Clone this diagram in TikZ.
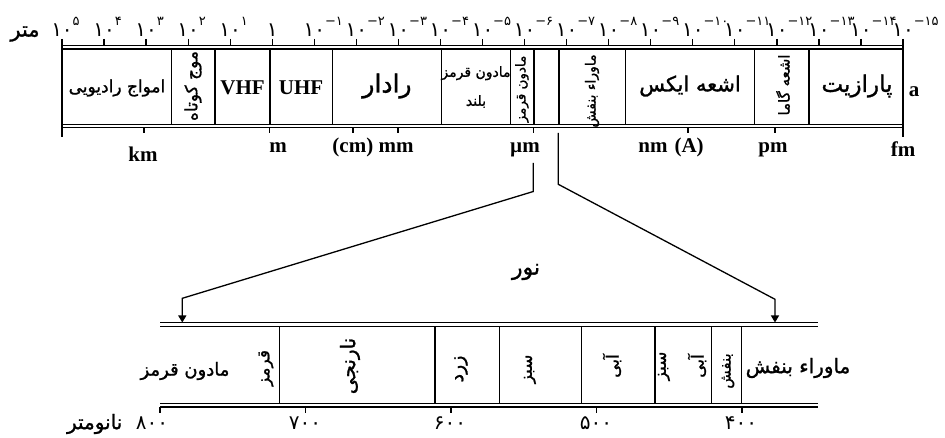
\documentclass[tikz,border=0pt]{standalone}
\usepackage{fontspec}
\setmainfont{Liberation Serif}
\newfontfamily\fa[Script=Arabic]{DejaVu Sans}
\newfontfamily\fab[Script=Arabic,FakeBold=1.2]{DejaVu Sans}
\newfontfamily\fadig{DejaVu Sans}
\TeXXeTstate=1
\usetikzlibrary{arrows.meta,positioning}
\newcommand{\fatxt}[1]{\beginR #1\endR}
\newcommand{\ep}[1]{\raisebox{11pt}{\fontsize{13}{13}\selectfont #1}}
\newcommand{\tenp}[1]{\hphantom{\ep{#1}}۱۰\ep{#1}}

\begin{document}
\begin{tikzpicture}[x=1pt, y=-1pt, line width=1.3pt,
	lat/.style={font=\fontsize{21}{21}\selectfont\bfseries, inner sep=0pt},
	sc/.style={font=\fadig\fontsize{20}{20}\selectfont, inner sep=0pt, anchor=base},
	big/.style={font=\fab\fontsize{22}{24}\selectfont, inner sep=0pt},
	mid/.style={font=\fab\fontsize{20}{22}\selectfont, inner sep=0pt},
	sml/.style={font=\fab\fontsize{15}{17}\selectfont, inner sep=0pt, align=center},
	vert/.style={font=\fab\fontsize{17}{19}\selectfont, inner sep=0pt, rotate=90},
	arr/.style={-{Triangle[length=7pt,width=8pt]}}]

	\useasboundingbox (0,0) rectangle (945,438);

	\node[mid, font=\fab\fontsize{21}{22}\selectfont] (mtr) at (25,34) {\fatxt{متر}};
	\foreach \i/\e in {0/۵,1/۴,2/۳,3/۲,4/۱,6/−۱,7/−۲,8/−۳,9/−۴,10/−۵,11/−۶,12/−۷,13/−۸,14/−۹,15/−۱۰,16/−۱۱,17/−۱۲,18/−۱۳,19/−۱۴,20/−۱۵}
		\node[sc] (t\i) at (62+42.05*\i,36.5) {\tenp{\e}};
	\node[sc] (t5) at (62+42.05*5,36.5) {۱};

	\foreach \y in {45.7,49,124.2,127.7}
		\draw (62,\y) -- (903,\y);
	\draw (62,39) -- (62,137);
	\draw (903,39) -- (903,137);
	\foreach \i in {1,...,19}
		\draw (62+42.05*\i,39) -- (62+42.05*\i,45.7);
	\foreach \x in {171.7,215,270,332.7,441.7,510.7,534,559,625.3,754.3,809}
		\draw (\x,49) -- (\x,124.2);
	\foreach \x in {144,269.3,353,398,533.3,688,775}
		\draw (\x,127.7) -- (\x,133);

	\node[sml, font=\fab\fontsize{17}{19}\selectfont] (rw) at (117,88) {\fatxt{امواج رادیویی}};
	\node[vert, font=\fab\fontsize{17}{19}\selectfont] (sw) at (193,86) {\fatxt{موج کوتاه}};
	\node[lat] (vhf) at (242.5,88) {VHF};
	\node[lat] (uhf) at (301,88) {UHF};
	\node[big, font=\fab\fontsize{25}{27}\selectfont] (rdr) at (387,86) {\fatxt{رادار}};
	\node[sml, font=\fab\fontsize{14}{29}\selectfont] (fir) at (476,87) {\fatxt{مادون قرمز}\\\fatxt{بلند}};
	\node[vert, font=\fab\fontsize{13.5}{15}\selectfont] (ir) at (522,89) {\fatxt{مادون قرمز}};
	\node[vert, font=\fab\fontsize{14}{16}\selectfont] (uv) at (592,91) {\fatxt{ماوراء بنفش}};
	\node[big, font=\fab\fontsize{21}{23}\selectfont] (xr) at (690,86) {\fatxt{اشعه ایکس}};
	\node[vert, font=\fab\fontsize{15}{17}\selectfont] (gam) at (783,85) {\fatxt{اشعه گاما}};
	\node[big, font=\fab\fontsize{23}{25}\selectfont] (par) at (857,86) {\fatxt{پارازیت}};
	\node[lat] (a) at (914,92) {a};

	\node[lat, anchor=base] (km) at (143,162) {km};
	\node[lat, anchor=base] (m) at (278,153) {m};
	\node[lat, anchor=base] (cm) at (373,153) {(cm) mm};
	\node[lat, anchor=base] (um) at (525,153) {µm};
	\node[lat, anchor=base] (nm) at (671,153) {nm\,\,(A)};
	\node[lat, anchor=base] (pm) at (773,153) {pm};
	\node[lat, anchor=base] (fm) at (903,157) {fm};

	\coordinate (l1) at (533.3,163);
	\coordinate (l2) at (533.3,191.5);
	\coordinate (l3) at (182.3,298.3);
	\coordinate (l4) at (182.3,322.5);
	\coordinate (r1) at (558.3,133);
	\coordinate (r2) at (558.3,184.3);
	\coordinate (r3) at (775,299.3);
	\coordinate (r4) at (775,322.5);
	\draw[arr] (l1) -- (l2) -- (l3) -- (l4);
	\draw[arr] (r1) -- (r2) -- (r3) -- (r4);
	\node[mid, font=\fab\fontsize{22}{24}\selectfont] (nur) at (526,272) {\fatxt{نور}};

	\foreach \y in {322.7,326.5,403.3,407}
		\draw (160,\y) -- (818,\y);
	\foreach \x in {279.3,435,499.3,581.7,655,711.7,741.7}
		\draw (\x,326.5) -- (\x,403.3);
	\foreach \x in {160,305.5,451,596.5,742}
		\draw (\x,407) -- (\x,412.5);
	\foreach \x/\d [count=\k] in {152/۸۰۰,305/۷۰۰,450/۶۰۰,596/۵۰۰,741/۴۰۰}
		\node[sc, anchor=center] (w\k) at (\x,423.5) {\d};
	\node[mid, anchor=east] (nano) at (123,424) {\fatxt{نانومتر}};

	\node[mid, font=\fab\fontsize{18}{20}\selectfont] (irb) at (185,371) {\fatxt{مادون قرمز}};
	\node[vert] (red) at (266,368) {\fatxt{قرمز}};
	\node[vert, font=\fab\fontsize{20}{22}\selectfont] (org) at (350,366) {\fatxt{نارنجی}};
	\node[vert, font=\fab\fontsize{19}{21}\selectfont] (yel) at (461,369) {\fatxt{زرد}};
	\node[vert] (grn) at (530,369) {\fatxt{سبز}};
	\node[vert] (blu) at (612,366) {\fatxt{آبی}};
	\node[vert] (cy1) at (664,366) {\fatxt{سبز}};
	\node[vert] (cy2) at (697,366) {\fatxt{آبی}};
	\node[vert, font=\fab\fontsize{15}{17}\selectfont] (vio) at (728,371) {\fatxt{بنفش}};
	\node[mid] (uvb) at (798,368) {\fatxt{ماوراء بنفش}};
\end{tikzpicture}
\end{document}
